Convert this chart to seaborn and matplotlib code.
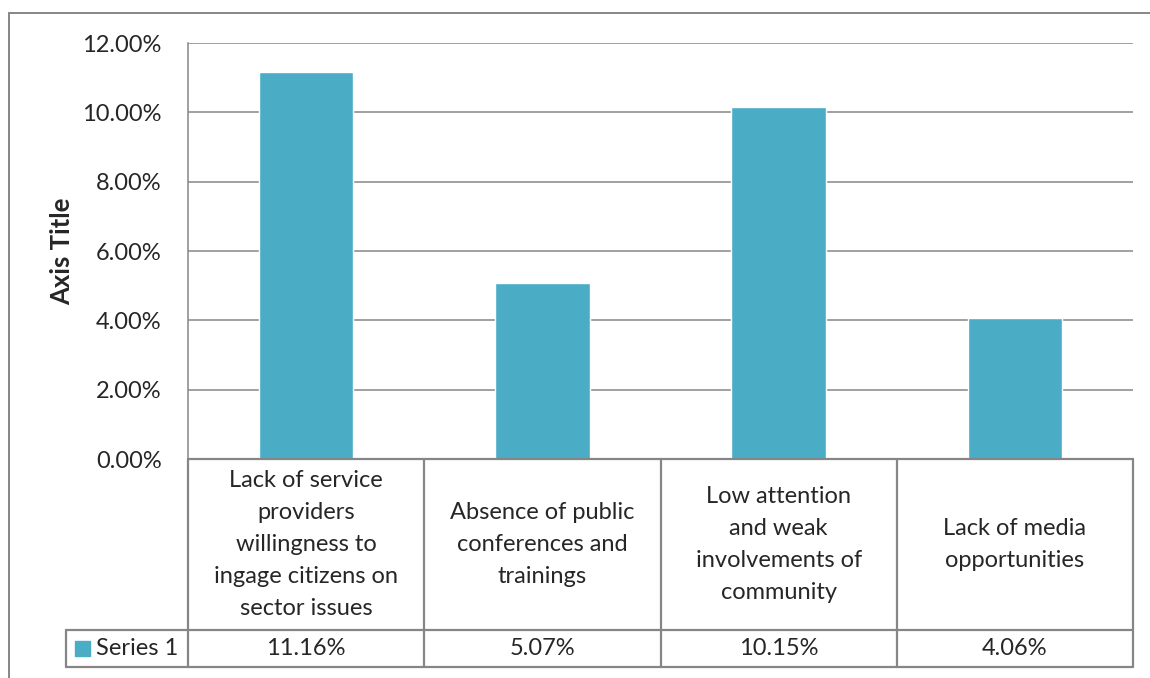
import matplotlib
matplotlib.use("Agg")
import matplotlib.pyplot as plt
import seaborn as sns
import pandas as pd
from matplotlib.lines import Line2D
from matplotlib.ticker import PercentFormatter
from matplotlib.patches import Rectangle

# Dados do gráfico
categorias = [
    "Lack of service\nproviders\nwillingness to\ningage citizens on\nsector issues",
    "Absence of public\nconferences and\ntrainings",
    "Low attention\nand weak\ninvolvements of\ncommunity",
    "Lack of media\nopportunities",
]
valores = [0.1116, 0.0507, 0.1015, 0.0406]
rotulos_valores = ["11.16%", "5.07%", "10.15%", "4.06%"]
serie = "Series 1"
yticks = [0.0, 0.02, 0.04, 0.06, 0.08, 0.10, 0.12]

COR = "#4BACC6"
CINZA = "#868686"
W, H = 1150, 678

sns.set_style("white")
plt.rcParams["font.family"] = ["Lato", "DejaVu Sans"]
plt.rcParams["font.size"] = 17

df = pd.DataFrame({"cat": categorias, "val": valores})

fig = plt.figure(figsize=(W / 100, H / 100), dpi=100)
ax = fig.add_axes([188 / W, 1 - 459 / H, 945 / W, 416 / H])

sns.barplot(data=df, x="cat", y="val", color=COR, saturation=1, width=0.4, ax=ax)

ax.set_xlim(-0.5, len(categorias) - 0.5)
ax.set_ylim(0, 0.12)
ax.set_yticks(yticks)
ax.yaxis.set_major_formatter(PercentFormatter(1.0, decimals=2))
ax.set_xticks([])
ax.set_xlabel("")
ax.set_ylabel("Axis Title", fontsize=18.5, fontweight="bold", labelpad=6)
ax.tick_params(axis="y", length=0, pad=19, labelsize=17)
ax.grid(axis="y", color=CINZA, linewidth=1.1)
ax.set_axisbelow(True)
for s in ["top", "right", "bottom"]:
    ax.spines[s].set_visible(False)
ax.spines["left"].set_color(CINZA)
ax.spines["left"].set_linewidth(1.1)

# Tabela de dados abaixo do gráfico
tx = ax.get_xaxis_transform()
ta = ax.transAxes
r1 = -171 / 416  # base da linha dos rótulos
r2 = -208 / 416  # base da linha dos valores
esq = -122 / 945  # borda esquerda da célula da legenda
lk = dict(color=CINZA, linewidth=1.6, clip_on=False)

n = len(categorias)
for i in range(n + 1):
    ax.add_line(Line2D([i - 0.5, i - 0.5], [0, r2], transform=tx, **lk))
ax.add_line(Line2D([0, 1], [0, 0], transform=ta, **lk))
ax.add_line(Line2D([esq, 1], [r1, r1], transform=ta, **lk))
ax.add_line(Line2D([esq, 1], [r2, r2], transform=ta, **lk))
ax.add_line(Line2D([esq, esq], [r1, r2], transform=ta, **lk))

for i, (c, v) in enumerate(zip(categorias, rotulos_valores)):
    ax.text(i, r1 / 2, c, transform=tx, ha="center", va="center",
            fontsize=17, linespacing=1.66)
    ax.text(i, (r1 + r2) / 2, v, transform=tx, ha="center", va="center",
            fontsize=17)

# Célula da legenda
ax.add_patch(Rectangle((esq + 9 / 945, (r1 + r2) / 2 - 7.5 / 416), 15 / 945, 15 / 416,
                       transform=ta, color=COR, clip_on=False))
ax.text(esq + 30 / 945, (r1 + r2) / 2, serie, transform=ta, ha="left", va="center",
        fontsize=17)

# Borda externa
bk = dict(color=CINZA, linewidth=1.4)
fig.add_artist(Line2D([9 / W, 1], [1 - 13 / H, 1 - 13 / H], transform=fig.transFigure, **bk))
fig.add_artist(Line2D([9 / W, 9 / W], [0, 1 - 13 / H], transform=fig.transFigure, **bk))

fig.savefig("out.png", dpi=100)
